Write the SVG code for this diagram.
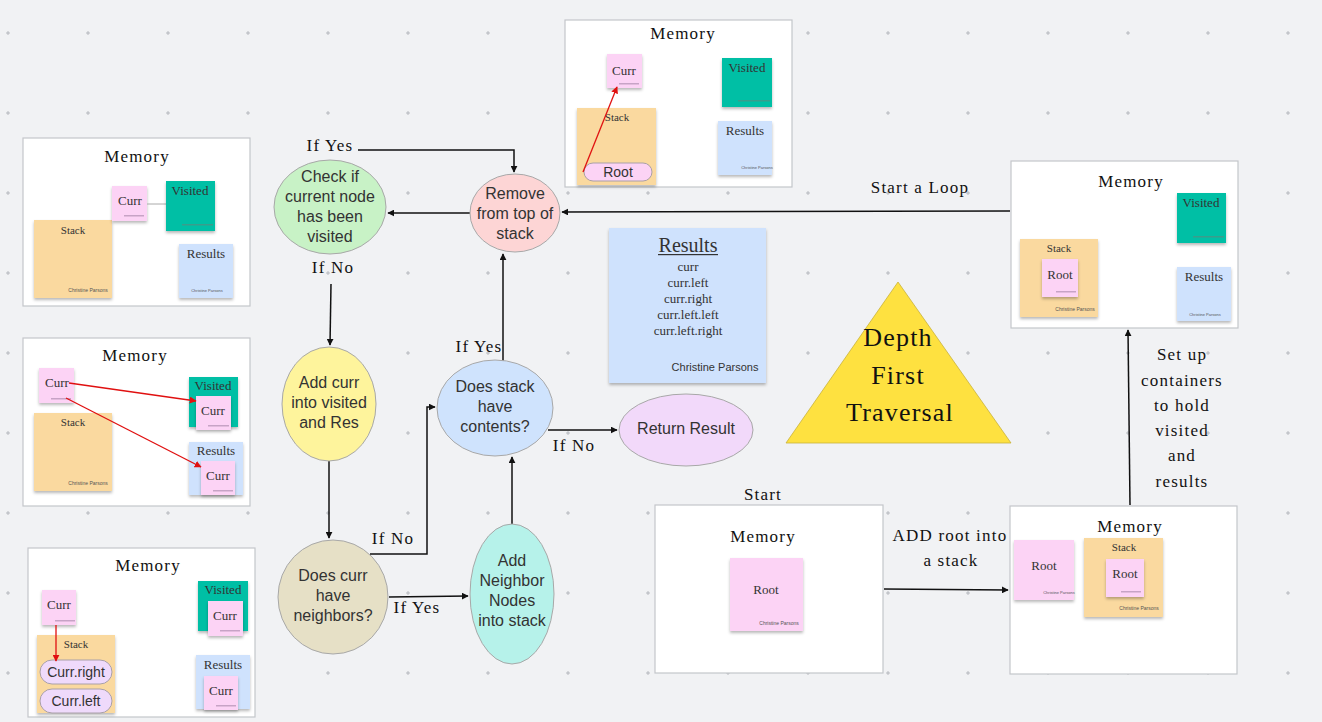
<svg xmlns="http://www.w3.org/2000/svg" width="1322" height="722" viewBox="0 0 1322 722">
<defs>
<pattern id="grid" patternUnits="userSpaceOnUse" x="-32" y="-7" width="80" height="80">
<path d="M38 40h4M40 38v4" stroke="#a9adb4" stroke-width="0.8"/>
</pattern>
<filter id="sh" x="-20%" y="-20%" width="140%" height="150%">
<feDropShadow dx="0" dy="2" stdDeviation="1.5" flood-color="#000" flood-opacity="0.28"/>
</filter>
<marker id="arr" viewBox="0 0 10 10" refX="9" refY="5" markerWidth="7" markerHeight="7" orient="auto" markerUnits="userSpaceOnUse">
<path d="M0 0L10 5L0 10z" fill="#111"/>
</marker>
<marker id="rarr" viewBox="0 0 10 10" refX="9" refY="5" markerWidth="7" markerHeight="7" orient="auto" markerUnits="userSpaceOnUse">
<path d="M0 0L10 5L0 10z" fill="#e01010"/>
</marker>
</defs>
<style>
.mem{fill:#fff;stroke:#c4c6ca;stroke-width:1.2}
.hand{font-family:"Liberation Serif",serif;font-size:17px;fill:#111;text-anchor:middle;letter-spacing:1.2px}
.st{font-family:"Liberation Serif",serif;font-size:13px;fill:#333;text-anchor:middle}
.sm{font-size:11px}
.pink{fill:#fcd3f5}.teal{fill:#00bfa5}.blue{fill:#cfe2fd}.orange{fill:#fad99f}
.note{filter:url(#sh)}
.sig{fill:#c7a3c6}
.tsig{fill:#3a9d8c}
.cp{font-family:"Liberation Sans",sans-serif;font-size:5px;fill:#555;text-anchor:middle}
.pill{stroke:#a9a0a8;stroke-width:1}
.sans{font-family:"Liberation Sans",sans-serif;font-size:14px;fill:#333;text-anchor:middle}
.node ellipse{stroke:#a8a8a8;stroke-width:1}
.node text{font-family:"Liberation Sans",sans-serif;font-size:16px;fill:#333;text-anchor:middle}
.conn path{stroke:#111;stroke-width:1.5;fill:none;marker-end:url(#arr)}
.red{stroke:#e01010;stroke-width:1.3;fill:none;marker-end:url(#rarr)}
</style>
<rect width="1322" height="722" fill="#f1f2f4"/>
<rect width="1322" height="722" fill="url(#grid)"/>

<g id="connectors" class="conn">
<path d="M884 589L1008 590"/>
<path d="M1130 505L1128 330"/>
<path d="M1010 211L562 212"/>
<path d="M470 213L388 213"/>
<path d="M358 150H514V172"/>
<path d="M331 284L330 345"/>
<path d="M329 461V538"/>
<path d="M370 554H427V407H435"/>
<path d="M389 597L468 596"/>
<path d="M512 525V457"/>
<path d="M503 361V254"/>
<path d="M548 430H617"/>
</g>

<g id="labels">
<text class="hand" x="920" y="193">Start a Loop</text>
<text class="hand" x="950" y="541">ADD root into</text>
<text class="hand" x="951" y="566">a stack</text>
<text class="hand" x="1182" y="360">Set up</text>
<text class="hand" x="1182" y="386">containers</text>
<text class="hand" x="1182" y="411">to hold</text>
<text class="hand" x="1182" y="436">visited</text>
<text class="hand" x="1182" y="461">and</text>
<text class="hand" x="1182" y="487">results</text>
<text class="hand" x="330" y="151">If Yes</text>
<text class="hand" x="333" y="273">If No</text>
<text class="hand" x="479" y="352">If Yes</text>
<text class="hand" x="574" y="451">If No</text>
<text class="hand" x="393" y="544">If No</text>
<text class="hand" x="417" y="613">If Yes</text>
<text class="hand" x="763" y="500">Start</text>
</g>

<g id="check" class="node">
<ellipse cx="330" cy="207" rx="56" ry="47" fill="#c8f2c6"/>
<text x="330" y="182">Check if</text><text x="330" y="202">current node</text><text x="330" y="222">has been</text><text x="330" y="242">visited</text>
</g>
<g id="remove" class="node">
<ellipse cx="515" cy="213" rx="45" ry="39" fill="#fdd5d5"/>
<text x="515" y="199">Remove</text><text x="515" y="219">from top of</text><text x="515" y="239">stack</text>
</g>
<g id="addcurr" class="node">
<ellipse cx="329" cy="404" rx="47" ry="57" fill="#fef49c"/>
<text x="329" y="388">Add curr</text><text x="329" y="408">into visited</text><text x="329" y="428">and Res</text>
</g>
<g id="doescurr" class="node">
<ellipse cx="333" cy="597" rx="55" ry="57" fill="#e6e0c6"/>
<text x="333" y="581">Does curr</text><text x="333" y="601">have</text><text x="333" y="621">neighbors?</text>
</g>
<g id="addneighbor" class="node">
<ellipse cx="512" cy="594" rx="42" ry="70" fill="#b6f2ea"/>
<text x="512" y="566">Add</text><text x="512" y="586">Neighbor</text><text x="512" y="606">Nodes</text><text x="512" y="626">into stack</text>
</g>
<g id="doesstack" class="node">
<ellipse cx="495" cy="408" rx="58" ry="48" fill="#cfe3fd"/>
<text x="495" y="392">Does stack</text><text x="495" y="412">have</text><text x="495" y="432">contents?</text>
</g>
<g id="return" class="node">
<ellipse cx="686" cy="430" rx="67" ry="36" fill="#f2d9fa"/>
<text x="686" y="434">Return Result</text>
</g>

<g id="results-note">
<rect class="blue note" x="609" y="228" width="157" height="155"/>
<text class="st" x="688" y="252" style="font-size:20px">Results</text>
<rect x="658" y="254" width="60" height="1.2" fill="#333"/>
<text class="st" x="688" y="271">curr</text>
<text class="st" x="688" y="287">curr.left</text>
<text class="st" x="688" y="303">curr.right</text>
<text class="st" x="688" y="319">curr.left.left</text>
<text class="st" x="688" y="335">curr.left.right</text>
<text x="715" y="371" style="font-family:'Liberation Sans',sans-serif;font-size:11px;fill:#333;text-anchor:middle">Christine Parsons</text>
</g>

<g id="title">
<polygon points="898,282 786,443 1011,443" fill="#fee140" stroke="#c9b23a" stroke-width="0.8"/>
<text class="hand" x="898" y="346" style="font-size:26px">Depth</text>
<text class="hand" x="898" y="384" style="font-size:26px">First</text>
<text class="hand" x="900" y="421" style="font-size:26px">Traversal</text>
</g>

<g id="mem-top">
<rect class="mem" x="565" y="20" width="227" height="167"/>
<text class="hand" x="683" y="39">Memory</text>
<rect class="pink note" x="607" y="54" width="35" height="34"/>
<text class="st" x="624" y="75">Curr</text>
<rect class="sig" x="619" y="83" width="20" height="1.5"/>
<rect class="teal note" x="722" y="58" width="50" height="49"/>
<text class="st" x="747" y="72">Visited</text>
<rect class="tsig" x="738" y="100" width="32" height="1.5"/>
<rect class="blue note" x="718" y="121" width="54" height="54"/>
<text class="st" x="745" y="135">Results</text>
<text class="cp" x="757" y="169" style="font-size:4px">Christine Parsons</text>
<rect class="orange note" x="577" y="108" width="79" height="77"/>
<text class="st sm" x="617" y="121">Stack</text>
<rect class="pink pill" x="584" y="163" width="68" height="18" rx="9"/>
<text class="sans" x="618" y="177">Root</text>
<path class="red" d="M583 172L617 87"/>
</g>

<g id="mem-left1">
<rect class="mem" x="23" y="138" width="227" height="168"/>
<text class="hand" x="137" y="162">Memory</text>
<rect class="orange note" x="34" y="220" width="78" height="78"/>
<text class="st sm" x="73" y="234">Stack</text>
<text class="cp" x="88" y="292">Christine Parsons</text>
<rect class="pink note" x="112" y="186" width="35" height="35"/>
<text class="st" x="130" y="205">Curr</text>
<rect class="sig" x="124" y="215" width="20" height="1.5"/>
<path d="M147 204H166" stroke="#aaa" stroke-width="1"/>
<rect class="teal note" x="166" y="181" width="49" height="50"/>
<text class="st" x="190" y="195">Visited</text>
<rect class="tsig" x="182" y="224" width="31" height="1.5"/>
<rect class="blue note" x="179" y="244" width="54" height="54"/>
<text class="st" x="206" y="258">Results</text>
<text class="cp" x="207" y="292" style="font-size:4px">Christine Parsons</text>
</g>

<g id="mem-left2">
<rect class="mem" x="23" y="338" width="227" height="168"/>
<text class="hand" x="135" y="361">Memory</text>
<rect class="orange note" x="34" y="413" width="78" height="78"/>
<text class="st sm" x="73" y="426">Stack</text>
<text class="cp" x="88" y="485">Christine Parsons</text>
<rect class="pink note" x="39" y="368" width="35" height="35"/>
<text class="st" x="57" y="387">Curr</text>
<rect class="sig" x="51" y="398" width="20" height="1.5"/>
<rect class="teal note" x="189" y="377" width="49" height="50"/>
<text class="st" x="213" y="390">Visited</text>
<rect class="pink note" x="196" y="396" width="35" height="34"/>
<text class="st" x="213" y="415">Curr</text>
<rect class="sig" x="208" y="425" width="21" height="1.5"/>
<rect class="blue note" x="189" y="442" width="54" height="53"/>
<text class="st" x="216" y="455">Results</text>
<rect class="pink note" x="201" y="461" width="34" height="34"/>
<text class="st" x="218" y="480">Curr</text>
<rect class="sig" x="213" y="490" width="20" height="1.5"/>
<path class="red" d="M69 383L196 401"/>
<path class="red" d="M66 398L201 467"/>
</g>

<g id="mem-left3">
<rect class="mem" x="28" y="548" width="227" height="169"/>
<text class="hand" x="148" y="571">Memory</text>
<rect class="orange note" x="37" y="635" width="78" height="78"/>
<text class="st sm" x="76" y="648">Stack</text>
<rect class="pill" x="40" y="660" width="72" height="24" rx="12" fill="#efdafb"/>
<text class="sans" x="76" y="677">Curr.right</text>
<rect class="pill" x="40" y="689" width="72" height="24" rx="12" fill="#efdafb"/>
<text class="sans" x="76" y="706">Curr.left</text>
<rect class="pink note" x="42" y="590" width="34" height="35"/>
<text class="st" x="59" y="609">Curr</text>
<rect class="sig" x="55" y="620" width="20" height="1.5"/>
<path class="red" d="M56 625V661"/>
<rect class="teal note" x="198" y="581" width="50" height="50"/>
<text class="st" x="223" y="594">Visited</text>
<rect class="pink note" x="208" y="601" width="35" height="35"/>
<text class="st" x="225" y="620">Curr</text>
<rect class="sig" x="220" y="630" width="20" height="1.5"/>
<rect class="blue note" x="196" y="655" width="54" height="54"/>
<text class="st" x="223" y="669">Results</text>
<rect class="pink note" x="204" y="676" width="34" height="34"/>
<text class="st" x="221" y="695">Curr</text>
<rect class="sig" x="216" y="705" width="20" height="1.5"/>
</g>

<g id="mem-right-top">
<rect class="mem" x="1011" y="161" width="227" height="167"/>
<text class="hand" x="1131" y="187">Memory</text>
<rect class="teal note" x="1177" y="193" width="49" height="50"/>
<text class="st" x="1201" y="207">Visited</text>
<rect class="tsig" x="1193" y="236" width="31" height="1.5"/>
<rect class="orange note" x="1020" y="239" width="78" height="78"/>
<text class="st sm" x="1059" y="252">Stack</text>
<text class="cp" x="1075" y="311">Christine Parsons</text>
<rect class="pink note" x="1042" y="259" width="36" height="38"/>
<text class="st" x="1060" y="279">Root</text>
<rect class="sig" x="1056" y="291" width="20" height="1.5"/>
<rect class="blue note" x="1177" y="267" width="54" height="54"/>
<text class="st" x="1204" y="281">Results</text>
<text class="cp" x="1205" y="316" style="font-size:4px">Christine Parsons</text>
</g>

<g id="mem-start">
<rect class="mem" x="655" y="505" width="228" height="168"/>
<text class="hand" x="763" y="542">Memory</text>
<rect class="pink note" x="730" y="558" width="73" height="73"/>
<text class="st" x="766" y="594">Root</text>
<text class="cp" x="779" y="625">Christine Parsons</text>
</g>

<g id="mem-right-bottom">
<rect class="mem" x="1010" y="506" width="227" height="168"/>
<text class="hand" x="1130" y="532">Memory</text>
<rect class="pink note" x="1014" y="540" width="60" height="60"/>
<text class="st" x="1044" y="570">Root</text>
<text class="cp" x="1059" y="594" style="font-size:4px">Christine Parsons</text>
<rect class="orange note" x="1084" y="538" width="79" height="79"/>
<text class="st sm" x="1124" y="551">Stack</text>
<rect class="pink note" x="1106" y="559" width="38" height="38"/>
<text class="st" x="1125" y="578">Root</text>
<rect class="sig" x="1121" y="591" width="20" height="1.5"/>
<text class="cp" x="1139" y="610">Christine Parsons</text>
</g>
</svg>
